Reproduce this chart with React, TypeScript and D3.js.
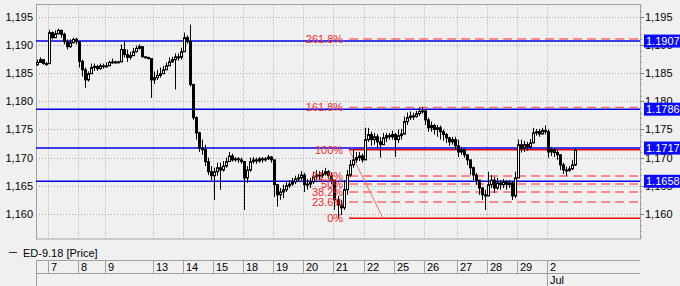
import React from 'react';
import * as d3 from 'd3';

// ---- data ----
const seriesName = 'ED-9.18 [Price]';
const firstOpen = 1.1865;
const closes = [
  1.1869,1.1874,1.1867,1.1867,1.1922,1.1913,1.1920,1.1926,1.1919,1.1906,
  1.1897,1.1904,1.1910,1.1906,1.1871,1.1856,1.1838,1.1849,1.1860,1.1862,
  1.1858,1.1863,1.1862,1.1863,1.1869,1.1870,1.1869,1.1870,1.1892,1.1883,
  1.1878,1.1881,1.1888,1.1894,1.1897,1.1879,1.1878,1.1876,1.1838,1.1842,
  1.1846,1.1849,1.1856,1.1863,1.1870,1.1874,1.1879,1.1878,1.1888,1.1913,
  1.1906,1.1830,1.1771,1.1744,1.1717,1.1714,1.1693,1.1675,1.1668,1.1675,
  1.1682,1.1678,1.1685,1.1693,1.1703,1.1696,1.1698,1.1696,1.1693,1.1664,
  1.1678,1.1693,1.1696,1.1694,1.1698,1.1696,1.1698,1.1701,1.1696,1.1652,
  1.1634,1.1639,1.1643,1.1650,1.1653,1.1657,1.1662,1.1664,1.1669,1.1652,
  1.1653,1.1657,1.1666,1.1669,1.1668,1.1671,1.1675,1.1668,1.1660,1.1625,
  1.1616,1.1611,1.1643,1.1669,1.1687,1.1696,1.1700,1.1703,1.1696,1.1732,
  1.1741,1.1732,1.1737,1.1728,1.1723,1.1735,1.1739,1.1737,1.1741,1.1732,
  1.1739,1.1742,1.1764,1.1771,1.1774,1.1773,1.1778,1.1782,1.1783,1.1767,
  1.1753,1.1757,1.1750,1.1753,1.1746,1.1741,1.1735,1.1728,1.1732,1.1721,
  1.1710,1.1714,1.1705,1.1696,1.1682,1.1669,1.1660,1.1646,1.1634,1.1632,
  1.1652,1.1660,1.1646,1.1655,1.1652,1.1657,1.1652,1.1655,1.1632,1.1664,
  1.1723,1.1717,1.1723,1.1719,1.1726,1.1744,1.1746,1.1742,1.1748,1.1746,
  1.1710,1.1714,1.1709,1.1705,1.1687,1.1678,1.1677,1.1680,1.1687,1.1714,
];
const highs = [
  1.1874,1.1878,1.1872,1.1870,1.1927,1.1924,1.1926,1.1929,1.1927,1.1922,
  1.1910,1.1910,1.1913,1.1913,1.1906,1.1874,1.1860,1.1853,1.1867,1.1867,
  1.1865,1.1867,1.1867,1.1869,1.1872,1.1876,1.1872,1.1872,1.1901,1.1906,
  1.1892,1.1888,1.1895,1.1899,1.1901,1.1881,1.1879,1.1878,1.1856,1.1853,
  1.1856,1.1860,1.1863,1.1869,1.1878,1.1879,1.1885,1.1885,1.1895,1.1922,
  1.1917,1.1936,1.1826,1.1773,1.1746,1.1732,1.1723,1.1700,1.1685,1.1682,
  1.1691,1.1691,1.1694,1.1700,1.1710,1.1707,1.1701,1.1701,1.1700,1.1693,
  1.1685,1.1700,1.1701,1.1700,1.1701,1.1701,1.1701,1.1705,1.1703,1.1696,
  1.1652,1.1646,1.1652,1.1657,1.1660,1.1664,1.1668,1.1671,1.1676,1.1673,
  1.1662,1.1664,1.1675,1.1678,1.1676,1.1678,1.1682,1.1678,1.1673,1.1660,
  1.1632,1.1625,1.1660,1.1678,1.1696,1.1714,1.1710,1.1710,1.1707,1.1753,
  1.1753,1.1746,1.1744,1.1742,1.1737,1.1744,1.1744,1.1744,1.1748,1.1744,
  1.1750,1.1751,1.1773,1.1780,1.1782,1.1780,1.1783,1.1789,1.1790,1.1783,
  1.1771,1.1764,1.1760,1.1758,1.1757,1.1750,1.1744,1.1737,1.1737,1.1737,
  1.1732,1.1719,1.1717,1.1705,1.1696,1.1684,1.1673,1.1660,1.1648,1.1643,
  1.1675,1.1669,1.1666,1.1664,1.1660,1.1662,1.1660,1.1660,1.1657,1.1675,
  1.1732,1.1732,1.1730,1.1728,1.1733,1.1753,1.1751,1.1751,1.1753,1.1757,
  1.1750,1.1719,1.1717,1.1714,1.1705,1.1691,1.1684,1.1685,1.1696,1.1717,
];
const lows = [
  1.1863,1.1869,1.1865,1.1863,1.1866,1.1910,1.1913,1.1919,1.1913,1.1901,
  1.1892,1.1895,1.1903,1.1901,1.1860,1.1844,1.1824,1.1835,1.1853,1.1854,
  1.1854,1.1856,1.1858,1.1860,1.1863,1.1867,1.1867,1.1869,1.1870,1.1878,
  1.1870,1.1874,1.1881,1.1887,1.1892,1.1878,1.1876,1.1874,1.1806,1.1831,
  1.1838,1.1842,1.1849,1.1856,1.1863,1.1869,1.1821,1.1872,1.1874,1.1892,
  1.1902,1.1826,1.1767,1.1732,1.1710,1.1705,1.1685,1.1669,1.1660,1.1625,
  1.1668,1.1643,1.1675,1.1682,1.1693,1.1693,1.1693,1.1691,1.1689,1.1607,
  1.1655,1.1675,1.1689,1.1689,1.1691,1.1691,1.1693,1.1696,1.1691,1.1630,
  1.1613,1.1625,1.1628,1.1639,1.1646,1.1650,1.1653,1.1657,1.1660,1.1639,
  1.1643,1.1646,1.1653,1.1660,1.1660,1.1664,1.1668,1.1662,1.1653,1.1607,
  1.1592,1.1598,1.1607,1.1634,1.1666,1.1682,1.1691,1.1694,1.1691,1.1696,
  1.1728,1.1721,1.1723,1.1717,1.1700,1.1723,1.1728,1.1732,1.1732,1.1701,
  1.1726,1.1732,1.1741,1.1758,1.1767,1.1767,1.1771,1.1774,1.1778,1.1758,
  1.1746,1.1746,1.1741,1.1737,1.1732,1.1730,1.1726,1.1721,1.1723,1.1714,
  1.1701,1.1705,1.1700,1.1687,1.1669,1.1660,1.1652,1.1634,1.1625,1.1607,
  1.1639,1.1646,1.1637,1.1643,1.1643,1.1646,1.1643,1.1646,1.1625,1.1628,
  1.1664,1.1709,1.1710,1.1712,1.1714,1.1728,1.1739,1.1737,1.1741,1.1741,
  1.1700,1.1703,1.1701,1.1696,1.1678,1.1671,1.1668,1.1675,1.1678,1.1685,
];

const dayLabels = ['7','8','9','13','14','15','18','19','20','21','22','25','26','27','28','29','2'];
const dayStartBar = [4,14,23,39,49,59,69,79,89,99,109,119,129,140,150,160,170];
const monthLabels = ['Jul'];
const monthStartBar = [170];
const totalSlots = 201;

const yTicks = [1.16, 1.165, 1.17, 1.175, 1.18, 1.185, 1.19, 1.195];
const yDomain = [1.15555, 1.19719];
const hLines = [1.1907, 1.1786, 1.1717, 1.1658];

const fibLow = 1.15923;
const fibHigh = 1.17139;
const fibStartBar = 104.2;
const fibEndBar = 115.5;
const fibLevels = [0, 0.236, 0.382, 0.5, 0.618, 1, 1.618, 2.618];
const fibLabels = ['0%', '23.6%', '38.2%', '50%', '61.8%', '100%', '161.8%', '261.8%'];

// ---- layout ----
const W = 680, H = 286;
const L = 36, R = 640, T = 4.5, B = 239;
const FONT = 'Liberation Sans, Arial, sans-serif';

const deLocale = d3.formatLocale({ decimal: ',', thousands: '.', grouping: [3], currency: ['', ''] });
const fmtTick = deLocale.format('.3f');
const fmtTag = d3.format('.4f');

export default function App() {
  const x = d3.scaleLinear().domain([0, totalSlots]).range([L, R]);
  const y = d3.scaleLinear().domain(yDomain).range([B, T]);
  const step = x(1) - x(0);

  const bars = closes.map((c, i) => {
    const o = i === 0 ? firstOpen : closes[i - 1];
    const h = Math.max(highs[i], o, c);
    const l = Math.min(lows[i], o, c);
    return { i, o, c, h, l };
  });

  const minorTicks = d3.range(1.156, 1.1971, 0.001);
  const fibX0 = x(fibStartBar);
  const grid = '#a8a8a8';

  return (
    <svg width={W} height={H} style={{ position: 'fixed', left: 0, top: 0, fontFamily: FONT }}>
      <rect x={0} y={0} width={W} height={H} fill="#f0f0f0" />
      {/* grid */}
      {yTicks.map((t) => (
        <line key={'gy' + t} x1={L} x2={R} y1={Math.round(y(t)) + 0.5} y2={Math.round(y(t)) + 0.5}
          stroke={grid} strokeDasharray="1,2" />
      ))}
      {dayStartBar.map((b, k) => (
        <line key={'gx' + k} x1={Math.round(x(b)) + 0.5} x2={Math.round(x(b)) + 0.5} y1={T} y2={B}
          stroke={grid} strokeDasharray="1,2" />
      ))}
      {/* frame */}
      <rect x={L + 0.5} y={T} width={R - L} height={B - T} fill="none" stroke="#a0a0a0" />

      {/* blue horizontal lines */}
      {hLines.map((v) => (
        <line key={'hl' + v} x1={L} x2={R} y1={y(v)} y2={y(v)} stroke="#0000e6" strokeWidth={1.5} />
      ))}

      {/* fib lines */}
      {fibLevels.map((lv, k) => {
        const v = fibLow + lv * (fibHigh - fibLow);
        const solid = lv === 0 || lv === 1;
        return (
          <line key={'fl' + k} x1={fibX0} x2={R} y1={y(v)} y2={y(v)}
            stroke={solid ? '#f00000' : '#ff6a6a'} strokeWidth={1.5}
            strokeDasharray={solid ? undefined : '9,5'} />
        );
      })}
      <line x1={x(fibStartBar)} y1={y(fibHigh)} x2={x(fibEndBar)} y2={y(fibLow)} stroke="#ff6a6a" strokeWidth={1} />

      {/* candles */}
      {bars.map((d) => {
        const cx = Math.floor(x(d.i) + step / 2);
        const up = d.c >= d.o;
        const yTop = y(Math.max(d.o, d.c));
        const yBot = y(Math.min(d.o, d.c));
        return (
          <g key={'c' + d.i}>
            <line x1={cx + 0.5} x2={cx + 0.5} y1={y(d.h)} y2={y(d.l)} stroke="#000" strokeWidth={1} />
            <rect x={cx - 0.5} y={yTop} width={2} height={Math.max(1, yBot - yTop)}
              fill={up ? '#ffffff' : '#000000'} stroke="#000" strokeWidth={1} />
          </g>
        );
      })}

      {/* fib labels */}
      {fibLevels.map((lv, k) => {
        const v = fibLow + lv * (fibHigh - fibLow);
        return (
          <text key={'ft' + k} x={fibX0 - 6} y={y(v) + 4} textAnchor="end" fontSize={11} fill="#ff2a2a">
            {fibLabels[k]}
          </text>
        );
      })}

      {/* right axis ticks */}
      {minorTicks.map((t, k) => (
        <line key={'mt' + k} x1={R} x2={R + 2} y1={Math.round(y(t)) + 0.5} y2={Math.round(y(t)) + 0.5} stroke="#a0a0a0" />
      ))}
      {yTicks.map((t) => (
        <line key={'Mt' + t} x1={R} x2={R + 4} y1={Math.round(y(t)) + 0.5} y2={Math.round(y(t)) + 0.5} stroke="#808080" />
      ))}
      {yTicks.map((t) => (
        <text key={'rt' + t} x={R + 5} y={y(t) + 4} fontSize={11} fill="#000">{fmtTick(t)}</text>
      ))}
      {yTicks.map((t) => (
        <text key={'lt' + t} x={L - 3} y={y(t) + 4} fontSize={11} fill="#000" textAnchor="end">{fmtTick(t)}</text>
      ))}

      {/* price tags */}
      {hLines.map((v) => (
        <g key={'tag' + v}>
          <rect x={R + 4} y={y(v) - 6.5} width={W - R - 4} height={13} fill="#0a0aff" />
          <text x={R + 6} y={y(v) + 4} fontSize={11} fill="#ffffff">{fmtTag(v)}</text>
        </g>
      ))}

      {/* legend */}
      <line x1={9} x2={17} y1={252.5} y2={252.5} stroke="#333" />
      <text x={23} y={256.5} fontSize={11} fill="#000">{seriesName}</text>

      {/* date rows */}
      <line x1={L} x2={R} y1={260.5} y2={260.5} stroke="#a0a0a0" />
      <line x1={L} x2={R} y1={273.5} y2={273.5} stroke="#a0a0a0" />
      <line x1={L + 0.5} x2={L + 0.5} y1={260} y2={H} stroke="#a0a0a0" />
      {dayStartBar.map((b, k) => (
        <g key={'dl' + k}>
          <line x1={Math.round(x(b)) + 0.5} x2={Math.round(x(b)) + 0.5} y1={260} y2={273} stroke="#a0a0a0" />
          <text x={Math.round(x(b)) + 3} y={271} fontSize={11} fill="#000">{dayLabels[k]}</text>
        </g>
      ))}
      {monthStartBar.map((b, k) => (
        <g key={'ml' + k}>
          <line x1={Math.round(x(b)) + 0.5} x2={Math.round(x(b)) + 0.5} y1={273} y2={H} stroke="#a0a0a0" />
          <text x={Math.round(x(b)) + 3} y={284} fontSize={11} fill="#000">{monthLabels[k]}</text>
        </g>
      ))}
    </svg>
  );
}
